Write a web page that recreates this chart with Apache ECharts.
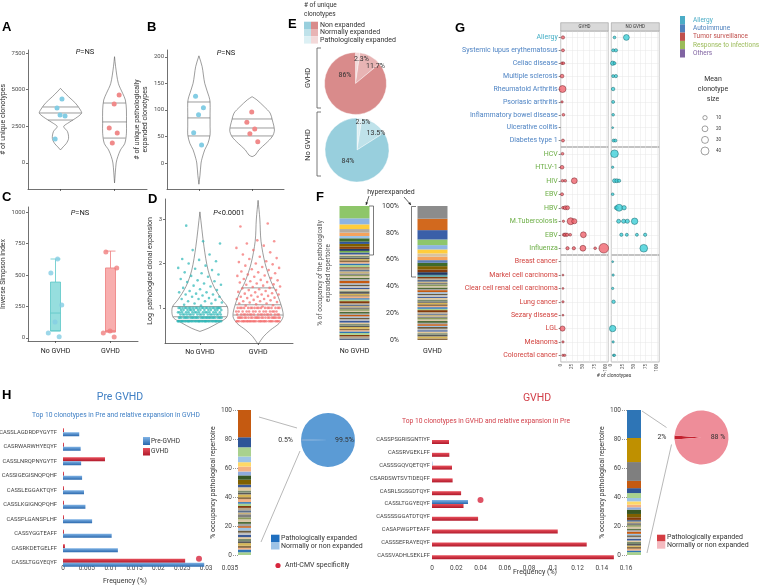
<!DOCTYPE html>
<html>
<head>
<meta charset="utf-8">
<script src="https://cdn.jsdelivr.net/npm/echarts@6.0.0/dist/echarts.min.js"></script>
<style>
html,body{margin:0;padding:0;background:#ffffff;}
#chart{width:764px;height:586px;}
</style>
</head>
<body>
<div id="chart"></div>
<script>
// ================= DATA =================
const groupNames = ['No GVHD', 'GVHD'];

// Panel A : # of unique clonotypes
const aPointsNo = [4360, 3750, 3200, 3270, 1640];
const aPointsGv = [4640, 4020, 2390, 2050, 1360];
const aQuantNo = [2930, 3410, 3820];
const aQuantGv = [1700, 2800, 4090];
// violin outlines: [value, half density width in category units]
const aViolinNo = [[5090,0],[4850,0.06],[4520,0.15],[4070,0.28],[3610,0.37],[3390,0.39],[3050,0.28],[2700,0.13],[2480,0.06],[2140,0.13],[1680,0.15],[1340,0.11],[1100,0.05],[890,0]];
const aViolinGv = [[7250,0],[6560,0.02],[5430,0.07],[4750,0.15],[4300,0.2],[3610,0.22],[2710,0.22],[2030,0.22],[1340,0.19],[890,0.11],[430,0.06],[0,0.03],[-1360,0]];
const aTicks = [0, 2500, 5000, 7500];

// Panel B : # of unique pathologically expanded clonotypes
const bPointsNo = [126, 104, 91, 57, 34];
const bPointsGv = [96, 77, 64, 55, 40];
const bQuantNo = [51, 85, 115];
const bQuantGv = [51, 66, 83];
const bViolinNo = [[202,0],[182,0.06],[150,0.11],[125,0.19],[115,0.21],[94,0.21],[68,0.21],[53,0.21],[37,0.17],[25,0.11],[9,0.06],[0,0.04],[-23,0.02],[-40,0]];
const bViolinGv = [[125,0],[119,0.09],[106,0.23],[94,0.34],[81,0.38],[62,0.42],[50,0.38],[37,0.26],[25,0.13],[15,0.06],[12,0]];
const bTicks = [0, 50, 100, 150, 200];

// Panel C : Inverse Simpson index  [min, Q1, median, Q3, max]
const cBoxes = [[56,56,198,444,627],[48,48,58,556,690]];
const cPointsNo = [627, 516, 262, 127, 40, 10];
const cPointsGv = [683, 556, 56, 40, 8];
const cTicks = [0, 250, 500, 750, 1000];

// Panel D : Log pathological clonal expansion
const dViolinNo = [[3.16,0],[2.38,0.07],[1.85,0.14],[1.48,0.24],[1.18,0.38],[1.03,0.47],[0.88,0.48],[0.77,0.45],[0.66,0.31],[0.54,0.14],[0.47,0]];
const dViolinGv = [[3.42,0],[3.0,0.03],[2.5,0.05],[2.0,0.12],[1.6,0.22],[1.3,0.33],[1.0,0.41],[0.8,0.43],[0.65,0.36],[0.5,0.21],[0.35,0.09],[0.18,0]];
const dQuantNo = [0.72, 0.80, 1.03];
const dQuantGv = [0.84, 1.07, 1.45];
const dNoLevels = [0.70, 0.78, 0.85, 0.90, 0.95, 1.00];
const dNoCounts = [40, 30, 18, 16, 14, 22];
const dNoSpread = [1.05,1.07,1.1,1.1,1.12,1.15,1.15,1.18,1.2,1.2,1.22,1.25,1.25,1.28,1.3,1.3,1.32,1.35,1.35,1.38,1.4,1.42,1.45,1.48,1.5,1.52,1.55,1.58,1.6,1.62,1.65,1.7,1.72,1.75,1.78,1.8,1.85,1.88,1.9,1.95,2.0,2.05,2.08,2.1,2.2,2.3,2.45,2.5,2.85];
const dGvLevels = [0.70, 0.78, 0.85, 0.92, 1.00];
const dGvCounts = [30, 24, 18, 14, 18];
const dGvSpread = [1.03,1.05,1.06,1.08,1.1,1.1,1.12,1.13,1.15,1.15,1.17,1.18,1.2,1.2,1.22,1.23,1.25,1.25,1.27,1.28,1.3,1.3,1.32,1.33,1.35,1.36,1.38,1.4,1.4,1.42,1.44,1.45,1.47,1.48,1.5,1.52,1.53,1.55,1.57,1.58,1.6,1.62,1.63,1.65,1.67,1.7,1.72,1.73,1.75,1.78,1.8,1.82,1.85,1.87,1.9,1.92,1.95,1.98,2.0,2.03,2.05,2.1,2.12,2.15,2.2,2.25,2.3,2.35,2.4,2.45,2.5,2.52,2.83,2.9];
const dTicks = [1, 2, 3];

// Panel E : pies (% of unique clonotypes)
const eNames = ['Pathologically expanded', 'Normally expanded', 'Non expanded'];
const ePieGvhd = [2.3, 11.7, 86];
const ePieNoGvhd = [2.5, 13.5, 84];

// Panel F : stacked occupancy (segments listed top -> bottom, %)
const fNoGvhdSeg = [9.2,4.5,3.5,2.7,2.5,1.7,2.5,1.7,2.0,1.7,1.5,1.2,
  1.5,1.0,1.3,1.1,0.9,1.4,1.0,1.2,1.6,0.8, 1.3,1.0,1.5,1.1,0.9,1.2,1.0,1.4,1.8,0.9,
  1.1,1.3,1.0,1.2,0.8,1.5,1.1,0.9,1.3,1.0, 1.2,1.6,0.9,1.1,1.0,1.4,1.2,0.8,1.3,1.0,
  1.1,0.9,1.2,1.0,1.5,1.1,1.2,1.0,1.3,1.1, 0.9,1.2,1.4,1.1,1.5,1.2];
const fGvhdSeg = [9.5,8.5,7.0,4.2,3.2,3.0,2.5,2.5,2.0,2.5,2.5,2.0,2.0,1.5,
  1.2,1.0,1.4,0.9,1.1,1.3,1.0,1.2,0.8,1.5, 1.1,1.0,1.3,0.9,1.2,1.4,1.0,1.1,1.3,0.9,
  1.2,1.0,1.5,1.1,0.9,1.3,1.0,1.2,1.1,1.4, 1.0,1.2,0.9,1.3,1.1,1.0,1.2,1.1,1.3,1.5,1.2];

// Panel G : bubble plot
const gRows1 = ['Allergy','Systemic lupus erythematosus','Celiac disease','Multiple sclerosis','Rheumatoid Arthritis','Psoriasic arthritis','Inflammatory bowel disease','Ulcerative colitis','Diabetes type 1'];
const gRows2 = ['HCV','HTLV-1','HIV','EBV','HBV','M.Tubercolosis','EBV\u200b','Influenza'];
const gRows3 = ['Breast cancer','Markel cell carcinoma','Clear cell renal cell carcinoma','Lung cancer','Sezary disease','LGL','Melanoma','Colorectal cancer'];
const gCategoryNames = ['Allergy','Autoimmune','Tumor surveillance','Response to infections','Others'];
const gSizeLegend = [10, 20, 30, 40];
// [# of clonotypes, row, mean clonotype size]
const gGvhd = [
  [5,'Allergy',5],[5,'Systemic lupus erythematosus',4],[3,'Celiac disease',3],[6,'Celiac disease',3],
  [3,'Multiple sclerosis',7],[4,'Rheumatoid Arthritis',30],[3,'Psoriasic arthritis',2],[6,'Inflammatory bowel disease',3],
  [5,'Diabetes type 1',4],[4,'HCV',3],[3,'HTLV-1',7],[4,'HIV',3],[10,'HIV',3],[30,'HIV',20],[3,'EBV',4],
  [5,'HBV',3],[10,'HBV',8],[15,'HBV',8],[6,'M.Tubercolosis',2],[22,'M.Tubercolosis',30],[30,'M.Tubercolosis',15],
  [7,'EBV\u200b',4],[10,'EBV\u200b',6],[14,'EBV\u200b',5],[21,'EBV\u200b',3],[50,'EBV\u200b',20],
  [15,'Influenza',5],[29,'Influenza',5],[49,'Influenza',20],[76,'Influenza',3],[95,'Influenza',60],
  [5,'Markel cell carcinoma',1],[5,'Clear cell renal cell carcinoma',1],[5,'Lung cancer',2],[5,'Sezary disease',1],
  [4,'LGL',15],[5,'Melanoma',2],[5,'Colorectal cancer',2],[9,'Colorectal cancer',2]
];
const gNoGvhd = [
  [7,'Allergy',3],[33,'Allergy',20],[4,'Systemic lupus erythematosus',4],[10,'Systemic lupus erythematosus',5],
  [3,'Celiac disease',10],[7,'Celiac disease',4],[4,'Multiple sclerosis',4],[10,'Multiple sclerosis',5],
  [4,'Rheumatoid Arthritis',6],[4,'Psoriasic arthritis',4],[4,'Inflammatory bowel disease',3],[3,'Ulcerative colitis',1],
  [5,'Diabetes type 1',4],[9,'Diabetes type 1',4],[7,'HCV',37],[3,'HTLV-1',2],[7,'HIV',8],[12,'HIV',8],[17,'HIV',5],
  [3,'EBV',3],[11,'HBV',8],[17,'HBV',30],[28,'HBV',10],[16,'M.Tubercolosis',8],[27,'M.Tubercolosis',9],
  [35,'M.Tubercolosis',9],[51,'M.Tubercolosis',25],[22,'EBV\u200b',5],[34,'EBV\u200b',4],[56,'EBV\u200b',4],[74,'EBV\u200b',5],
  [71,'Influenza',37],[3,'Breast cancer',1],[4,'Markel cell carcinoma',2],[3,'Clear cell renal cell carcinoma',2],
  [5,'Lung cancer',6],[3,'LGL',25],[4,'Melanoma',2],[5,'Colorectal cancer',2],[7,'Colorectal cancer',2]
];

// Panel H
const hPreCats = ['CASSLAGDRDPYGYTF','CASRWARWHYEQYF','CASSLNRQPNYGYTF','CASSIGEGISNQPQHF','CASSLEGGAKTQYF','CASSLKGIGNQPQHF','CASSPLGANSPLHF','CASSYGGTEAFF','CASRKDETGELFF','CASSLTGGYEQYF'];
const hPrePre  = [0.0034,0.0037,0.0038,0.0040,0.0044,0.0047,0.0061,0.0102,0.0115,0.0296];
const hPreGvhd = [0.0002,0.0002,0.0088,0.0002,0.0002,0.0002,0.0002,0.0002,0.0004,0.0256];
const hPreCmv = [[0.0285,'CASSLTGGYEQYF']];
const hGvCats = ['CASSPSGRISGNTIYF','CASSRVGEKLFF','CASSSGQVQETQYF','CSARDSWTSVTIDEQFF','CASRLSGSGDTQYF','CASSLTGGYEQYF','CASSSSGGATDTQYF','CASAPWGPTEAFF','CASSSEFRAYEQYF','CASSVADHLSEKLFF'];
const hGvGvhd = [0.014,0.0143,0.0165,0.017,0.024,0.026,0.038,0.1037,0.1276,0.150];
const hGvPre  = [0,0,0.0003,0,0,0.0297,0,0,0,0];
const hGvCmv = [[0.04,'CASSLTGGYEQYF']];
const hPreStackSeg = [18.8,6.9,6.4,3.9,3.0,3.4,2.7,3.0,3.4,
  1.8,2.2,1.5,1.2,1.9,1.4,2.0,1.1,1.6,1.3, 1.7,1.5,1.2,2.1,1.4,1.8,1.3,1.6,1.1,1.9,
  1.5,1.4,1.7,1.2,1.6,1.3,1.8,1.5,1.1,1.9,1.9];
const hGvStackSeg = [19.3,16.6,13.0,5.0,3.4,3.4,2.3,2.3,1.8,1.6,3.0,2.3,1.8,
  1.2,1.0,1.4,1.1,1.3,0.9,1.2,1.5,1.0,1.1, 1.3,1.2,1.0,1.4,1.1,0.9,1.3,1.2,1.1,2.0];
const hPiePre = [0.5, 99.5];
const hPieGvhd = [2, 88];
const hPieNames = ['Pathologically expanded', 'Normally or non expanded'];

// ================= STYLE / LAYOUT =================
const FONT = 'Roboto, "Liberation Sans", Arial, sans-serif';
const BOLD = '"Liberation Sans", Arial, sans-serif';
const AXC = {color:'#333333', width:0.7};
const TICKLBL = {fontSize:6, color:'#4d4d4d', fontFamily:FONT};
const stripePal = ['#b6a68c','#5a6e8c','#c9b27c','#7f7f7f','#8a9a5b','#d9c6a5','#4e6b3a','#a5a5a5','#c55a11','#9dc3e6','#6b5b3e','#bfbfbf','#3b5998','#e2c99b','#7a8b6f','#595959','#d6b656','#8c6d46','#f4b183','#2e75b6','#a9d18e','#843c0c'];
const fTopColors = [
  ['#8ec66a','#8db4e2','#ffcd3c','#b3ab9f','#f4a35d','#9dc3e6','#3e6b2c','#2f5597','#806000','#843c0c','#203864','#70ad47'],
  ['#8c8c8c','#d2691e','#3a5fa8','#8ec66a','#8db4e2','#ffcd3c','#d8c3a0','#f4a35d','#5b7fb8','#3e6b2c','#806000','#843c0c','#203864','#5fa3a3']
];
const hPreTop = ['#c55a11','#2f5597','#a9d18e','#9dc3e6','#ffd966','#f4b183','#8faadc','#385723','#7f6000'];
const hGvTop = ['#2e75b6','#bf9000','#7f7f7f','#c55a11','#2f5597','#a9d18e','#9dc3e6','#ffd966','#f4b183','#8faadc','#385723','#7f6000','#843c0c'];
const gTypeColor = {allergy:'#45afc6', auto:'#4f84c4', tumor:'#d2433f', infect:'#6cae45', others:'#8064a2'};
const gLegendColors = ['#4bacc6','#4f81bd','#c0504d','#9bbb59','#8064a2'];
function gRowColor(name){
  if (name === 'Allergy') return gTypeColor.allergy;
  if (gRows1.indexOf(name) >= 0) return gTypeColor.auto;
  if (gRows2.indexOf(name) >= 0) return gTypeColor.infect;
  return gTypeColor.tumor;
}
const sizeFn = v => 1.15 * Math.sqrt(v) + 0.7;

// ================= HELPERS =================
function interpW(outline, v){
  for (let i = 0; i < outline.length - 1; i++){
    const a = outline[i], b = outline[i+1];
    if (v <= a[0] && v >= b[0]) { const t = (a[0]-v)/(a[0]-b[0]); return a[1] + (b[1]-a[1])*t; }
  }
  return 0;
}
function violin(ax, center, outline, quant){
  return {
    type:'custom', xAxisIndex:ax, yAxisIndex:ax, silent:true, clip:false, z:1,
    data:[[center, outline[0][0]]],
    renderItem:function(params, api){
      const pts = [];
      outline.forEach(p => pts.push(api.coord([center - p[1], p[0]])));
      for (let i = outline.length - 1; i >= 0; i--) { const p = outline[i]; pts.push(api.coord([center + p[1], p[0]])); }
      const kids = [{type:'polygon', shape:{points:pts, smooth:0.3}, style:{fill:'rgba(0,0,0,0)', stroke:'#5a5a5a', lineWidth:0.6}}];
      quant.forEach(q => {
        const w = interpW(outline, q);
        const p1 = api.coord([center - w, q]), p2 = api.coord([center + w, q]);
        kids.push({type:'line', shape:{x1:p1[0], y1:p1[1], x2:p2[0], y2:p2[1]}, style:{stroke:'#5a5a5a', lineWidth:0.6}});
      });
      return {type:'group', children:kids};
    }
  };
}
function jitter(center, values, spread, offset){
  return values.map((v, i) => [center + ((((i + offset) * 0.6180339887) % 1) - 0.5) * 2 * spread, v]);
}
function expandLevels(levels, counts){
  const out = [];
  levels.forEach((l, i) => { for (let k = 0; k < counts[i]; k++) out.push(l); });
  return out;
}
function pointSeries(ax, data, color, size, opacity){
  return {type:'scatter', xAxisIndex:ax, yAxisIndex:ax, data:data, symbolSize:size, silent:true, z:3,
    itemStyle:{color:color, opacity:opacity}};
}
function stackSeries(ax, bars, topColors, stack, barWidth, palOffsets){
  const revs = bars.map(b => b.slice().reverse());
  const n = Math.max.apply(null, revs.map(r => r.length));
  const out = [];
  for (let i = 0; i < n; i++){
    out.push({type:'bar', xAxisIndex:ax, yAxisIndex:ax, stack:stack, barWidth:barWidth, silent:true,
      data: revs.map((r, bi) => {
        if (i >= r.length) return {value:0};
        const topIdx = r.length - 1 - i;
        const col = topIdx < topColors[bi].length ? topColors[bi][topIdx] : stripePal[(topIdx + palOffsets[bi]) % stripePal.length];
        return {value:r[i], itemStyle:{color:col}};
      })});
  }
  return out;
}
function valY(gi, min, max, ticks, name, gap){
  return {gridIndex:gi, type:'value', min:min, max:max,
    axisLine:{show:true, onZero:false, lineStyle:AXC},
    axisTick:{show:true, length:2, customValues:ticks, lineStyle:AXC},
    axisLabel:Object.assign({customValues:ticks, margin:3, formatter:v => String(v)}, TICKLBL),
    splitLine:{show:false},
    name:name, nameLocation:'middle', nameGap:gap, nameTextStyle:{fontSize:7, color:'#333', fontFamily:FONT, lineHeight:8}};
}
function valX(gi, labels, margin){
  return {gridIndex:gi, type:'value', min:0.4, max:2.6,
    axisLine:{show:true, onZero:false, lineStyle:AXC},
    axisTick:{show:true, length:2, customValues:[1,2], lineStyle:AXC},
    axisLabel:{show:labels, customValues:[1,2], formatter:v => groupNames[Math.round(v)-1] || '', fontSize:7, color:'#222', fontFamily:FONT, margin:margin},
    splitLine:{show:false}};
}

// ================= GRIDS =================
const gvLeft = 560.7, gvW = 47.6, noLeft = 611.3, noW = 48;
const gTops = [31, 147, 255], gHeights = [116, 108, 107];
const gFacets = [gRows1, gRows2, gRows3];
const grids = [
  {left:28, top:50, width:119, height:139},     // 0 A
  {left:167, top:50, width:117, height:139},    // 1 B
  {left:28, top:207, width:110, height:134},    // 2 C
  {left:165, top:199, width:128, height:144},   // 3 D
  {left:315.5, top:206, width:156, height:134}  // 4 F
];
[gvLeft, noLeft].forEach((lx, c) => {
  gTops.forEach((t, f) => grids.push({left:lx, top:t, width:(c===0?gvW:noW), height:gHeights[f], show:true, borderColor:'#8a8a8a', borderWidth:0.6, backgroundColor:'rgba(0,0,0,0)'}));
});
grids.push({left:63, top:425, width:167, height:145});   // 11 H left bars
grids.push({left:238, top:410, width:13, height:145});   // 12 H left stack
grids.push({left:432, top:433.6, width:194, height:128}); // 13 H right bars
grids.push({left:627, top:410, width:14, height:145});   // 14 H right stack
grids.forEach(g => { g.outerBoundsMode = 'none'; g.containLabel = false; });

// ================= AXES =================
const xAxes = [], yAxes = [];
xAxes[0] = valX(0, false, 3);
yAxes[0] = valY(0, -1773, 7705, aTicks, '# of unique clonotypes', 19);
xAxes[1] = valX(1, false, 3);
yAxes[1] = valY(1, -49, 213, bTicks, '# of unique pathologically\nexpanded clonotypes', 18);
xAxes[2] = {gridIndex:2, type:'category', data:groupNames, boundaryGap:true,
  axisLine:{show:true, onZero:false, lineStyle:AXC}, axisTick:{show:true, alignWithLabel:true, length:2, lineStyle:AXC},
  axisLabel:{fontSize:7, color:'#222', fontFamily:FONT, margin:7}, splitLine:{show:false}};
yAxes[2] = valY(2, -24, 1040, cTicks, 'Inverse Simpson index', 17);
xAxes[3] = valX(3, true, 6);
yAxes[3] = valY(3, 0.21, 3.45, dTicks, 'Log  pathological clonal expansion', 11);
xAxes[4] = {gridIndex:4, type:'category', data:groupNames, boundaryGap:true,
  axisLine:{show:false}, axisTick:{show:false}, axisLabel:{fontSize:7, color:'#222', fontFamily:FONT, margin:8}, splitLine:{show:false}};
yAxes[4] = {gridIndex:4, type:'value', min:0, max:100, interval:20, position:'left', offset:-87.5,
  axisLine:{show:false}, axisTick:{show:false}, splitLine:{show:false},
  axisLabel:{formatter:'{value}%', fontSize:7, color:'#333', fontFamily:FONT, margin:4},
  name:'% of occupancy of the pathologically\nexpanded repertoire', nameLocation:'middle', nameGap:71,
  nameTextStyle:{fontSize:6.5, color:'#555', fontFamily:FONT, lineHeight:8}};
for (let c = 0; c < 2; c++){
  for (let f = 0; f < 3; f++){
    const gi = 5 + c*3 + f;
    xAxes[gi] = {gridIndex:gi, type:'value', min:0, max:105, interval:12.5,
      axisLine:{show:false}, axisTick:{show:false},
      axisLabel:{show:f===2, rotate:90, fontSize:4.5, color:'#4d4d4d', fontFamily:FONT, margin:2,
        formatter:v => (Math.abs(v % 25) < 1e-9 && v <= 100) ? String(v) : ''},
      splitLine:{show:true, lineStyle:{color:'#e6e6e6', width:0.5}}};
    yAxes[gi] = {gridIndex:gi, type:'category', data:gFacets[f], inverse:true, boundaryGap:true,
      axisLine:{show:false}, splitLine:{show:false},
      axisTick:{show:c===0, alignWithLabel:true, length:2, lineStyle:{color:'#333', width:0.6}},
      axisLabel:{show:c===0, fontSize:7, fontFamily:FONT, margin:3, color:(v) => gRowColor(v)}};
  }
}
xAxes[11] = {gridIndex:11, type:'value', min:0, max:0.035, interval:0.005, axisLine:{show:false}, axisTick:{show:false},
  axisLabel:{fontSize:6.5, color:'#444', fontFamily:FONT, margin:-5, formatter:v => String(v)}, splitLine:{show:false}};
yAxes[11] = {gridIndex:11, type:'category', data:hPreCats, inverse:true, axisLine:{show:false}, axisTick:{show:false},
  axisLabel:{fontSize:5.8, color:'#444', fontFamily:FONT, margin:6}, splitLine:{show:false}};
xAxes[12] = {gridIndex:12, type:'category', data:['Pre'], show:false};
yAxes[12] = {gridIndex:12, type:'value', min:0, max:100, interval:20, axisLine:{show:false},
  axisTick:{show:true, length:5, lineStyle:{type:'dotted', color:'#999'}}, splitLine:{show:false},
  axisLabel:{fontSize:6.5, color:'#444', fontFamily:FONT, margin:6},
  name:'% occupancy pathological repertoire', nameLocation:'middle', nameGap:17,
  nameTextStyle:{fontSize:7, color:'#333', fontFamily:FONT}};
xAxes[13] = {gridIndex:13, type:'value', min:0, max:0.16, interval:0.02, axisLine:{show:false}, axisTick:{show:false},
  axisLabel:{fontSize:6.5, color:'#444', fontFamily:FONT, margin:3, formatter:v => String(v)}, splitLine:{show:false}};
yAxes[13] = {gridIndex:13, type:'category', data:hGvCats, inverse:true, axisLine:{show:false}, axisTick:{show:false},
  axisLabel:{fontSize:5.8, color:'#444', fontFamily:FONT, margin:2}, splitLine:{show:false}};
xAxes[14] = {gridIndex:14, type:'category', data:['GVHD'], show:false};
yAxes[14] = {gridIndex:14, type:'value', min:0, max:100, interval:20, axisLine:{show:false},
  axisTick:{show:true, length:5, lineStyle:{type:'dotted', color:'#999'}}, splitLine:{show:false},
  axisLabel:{fontSize:6.5, color:'#444', fontFamily:FONT, margin:6},
  name:'% occupancy pathological repertoire', nameLocation:'middle', nameGap:16,
  nameTextStyle:{fontSize:7, color:'#333', fontFamily:FONT}};
xAxes[15] = {gridIndex:2, type:'value', min:-0.5, max:1.5, show:false};

// ================= SERIES =================
const series = [];
// A
series.push(violin(0, 1, aViolinNo, aQuantNo), violin(0, 2, aViolinGv, aQuantGv));
series.push(pointSeries(0, jitter(1, aPointsNo, 0.12, 1), '#84cde4', 5, 1));
series.push(pointSeries(0, jitter(2, aPointsGv, 0.12, 3), '#f08a8a', 5, 1));
// B
series.push(violin(1, 1, bViolinNo, bQuantNo), violin(1, 2, bViolinGv, bQuantGv));
series.push(pointSeries(1, jitter(1, bPointsNo, 0.12, 2), '#84cde4', 5, 1));
series.push(pointSeries(1, jitter(2, bPointsGv, 0.12, 4), '#f08a8a', 5, 1));
// C
series.push({type:'boxplot', xAxisIndex:2, yAxisIndex:2, silent:true, boxWidth:[10,10], z:2,
  data:[
    {value:cBoxes[0], itemStyle:{color:'rgba(80,200,200,0.6)', borderColor:'#5cc6c6', borderWidth:0.8}},
    {value:cBoxes[1], itemStyle:{color:'rgba(245,140,140,0.7)', borderColor:'#ee7c7c', borderWidth:0.8}}
  ]});
series.push({type:'scatter', xAxisIndex:15, yAxisIndex:2, data:jitter(0, cPointsNo, 0.16, 1), symbolSize:5, silent:true, z:3, itemStyle:{color:'#84cde4'}});
series.push({type:'scatter', xAxisIndex:15, yAxisIndex:2, data:jitter(1, cPointsGv, 0.16, 2), symbolSize:5, silent:true, z:3, itemStyle:{color:'#f08080'}});
// D
series.push(pointSeries(3, jitter(1, expandLevels(dNoLevels, dNoCounts).concat(dNoSpread), 0.38, 0), '#2bb7b7', 2.6, 0.7));
series.push(pointSeries(3, jitter(2, expandLevels(dGvLevels, dGvCounts).concat(dGvSpread), 0.38, 7), '#f36a6a', 2.6, 0.7));
series.push(violin(3, 1, dViolinNo, dQuantNo), violin(3, 2, dViolinGv, dQuantGv));
// F
stackSeries(4, [fNoGvhdSeg, fGvhdSeg], fTopColors, 'f', 30, [0, 7]).forEach(s => series.push(s));
// G
for (let c = 0; c < 2; c++){
  for (let f = 0; f < 3; f++){
    const gi = 5 + c*3 + f;
    const src = c === 0 ? gGvhd : gNoGvhd;
    series.push({type:'scatter', xAxisIndex:gi, yAxisIndex:gi, silent:true, clip:false, z:3,
      data: src.filter(p => gFacets[f].indexOf(p[1]) >= 0),
      symbolSize: d => sizeFn(d[2]),
      itemStyle: c === 0 ? {color:'#f0646e', borderColor:'#6b1a1f', borderWidth:0.6}
                         : {color:'#3fd0d8', borderColor:'#0b5c63', borderWidth:0.6},
      markLine:{silent:true, symbol:'none', z:1, label:{show:false}, animation:false,
        lineStyle:{color:'#e6e6e6', width:0.5, type:'solid'},
        data: gFacets[f].map(r => ({yAxis:r}))}
    });
  }
}
// H left bars
const blueGrad = new echarts.graphic.LinearGradient(0,0,0,1,[{offset:0,color:'#7fb3e6'},{offset:1,color:'#2a68ad'}]);
const redGrad = new echarts.graphic.LinearGradient(0,0,0,1,[{offset:0,color:'#e8505c'},{offset:1,color:'#b0182a'}]);
series.push({type:'bar', name:'GVHD', xAxisIndex:11, yAxisIndex:11, data:hPreGvhd, barWidth:4, barGap:'0%', silent:true, itemStyle:{color:redGrad}});
series.push({type:'bar', name:'Pre-GVHD', xAxisIndex:11, yAxisIndex:11, data:hPrePre, barWidth:4, barGap:'0%', silent:true, itemStyle:{color:blueGrad}});
series.push({type:'scatter', xAxisIndex:11, yAxisIndex:11, data:hPreCmv, symbolSize:6, symbolOffset:[0,-4], silent:true, z:4, itemStyle:{color:'#d7263d'}});
stackSeries(12, [hPreStackSeg], [hPreTop], 'hl', 13, [3]).forEach(s => series.push(s));
// H right bars
series.push({type:'bar', name:'Pre-GVHD ', xAxisIndex:13, yAxisIndex:13, data:hGvPre, barWidth:4, barGap:'0%', silent:true, itemStyle:{color:blueGrad}});
series.push({type:'bar', name:'GVHD ', xAxisIndex:13, yAxisIndex:13, data:hGvGvhd, barWidth:4, barGap:'0%', silent:true, itemStyle:{color:redGrad}});
series.push({type:'scatter', xAxisIndex:13, yAxisIndex:13, data:hGvCmv, symbolSize:6, symbolOffset:[0,-4], silent:true, z:4, itemStyle:{color:'#d7263d'}});
stackSeries(14, [hGvStackSeg], [hGvTop], 'hr', 14, [10]).forEach(s => series.push(s));
// E pies
const eRed = ['#f3d9d9','#e8b4b4','#d98b8b'];
const eBlue = ['#dcf0f4','#bfe2ea','#98cfdd'];
function ePie(center, r, vals, cols){
  return {type:'pie', center:center, radius:r, startAngle:90, clockwise:true, silent:true, animation:false,
    label:{show:false}, labelLine:{show:false}, itemStyle:{borderColor:'#ffffff', borderWidth:0.4},
    data: vals.map((v, i) => ({name:eNames[i], value:v, itemStyle:{color:cols[i]}}))};
}
series.push(ePie([355.5, 83.5], 31, ePieGvhd, eRed));
series.push(ePie([357, 150], 32, ePieNoGvhd, eBlue));
// H pies
function hPie(center, vals, cols, bigFmt){
  const smallAngle = vals[0] / (vals[0] + vals[1]) * 360;
  return {type:'pie', center:center, radius:27, startAngle:180 + smallAngle/2, clockwise:true, silent:true,
    avoidLabelOverlap:false, animation:false, itemStyle:{borderWidth:0},
    label:{fontSize:7, color:'#333', fontFamily:FONT},
    data:[
      {name:hPieNames[0], value:vals[0], itemStyle:{color:cols[0]}, label:{show:true, position:'outside', formatter:'{c}%'}, labelLine:{show:false, length:3, length2:0}},
      {name:hPieNames[1], value:vals[1], itemStyle:{color:cols[1]}, label:{show:true, position:'inside', formatter:bigFmt}}
    ]};
}
series.push(hPie([328, 440], hPiePre, ['#1f5fae','#5b9bd5'], '{c}%'));
series.push(hPie([701.5, 437.5], hPieGvhd, ['#c4202e','#ee8d99'], '{c} %'));

// ================= GRAPHIC ANNOTATIONS =================
const G = [];
function txt(x, y, text, opt){
  opt = opt || {};
  G.push({type:'text', x:x, y:y, rotation:opt.rot || 0, z:100, silent:true,
    style:Object.assign({text:text, fontSize:7, fontFamily:FONT, fill:'#333', align:'center', verticalAlign:'middle'}, opt.style || {})});
}
function rect(x, y, w, h, fill, stroke){
  G.push({type:'rect', z:99, silent:true, shape:{x:x, y:y, width:w, height:h}, style:{fill:fill, stroke:stroke || null, lineWidth:0.5}});
}
function poly(points, stroke, lw){
  G.push({type:'polyline', z:99, silent:true, shape:{points:points}, style:{stroke:stroke, lineWidth:lw || 0.8, fill:null}});
}
function arrow(x1, y1, x2, y2){
  poly([[x1,y1],[x2,y2]], '#222', 0.7);
  const a = Math.atan2(y2 - y1, x2 - x1), s = 3;
  G.push({type:'polygon', z:99, silent:true, shape:{points:[[x2,y2],[x2 - s*Math.cos(a-0.45), y2 - s*Math.sin(a-0.45)],[x2 - s*Math.cos(a+0.45), y2 - s*Math.sin(a+0.45)]]}, style:{fill:'#222'}});
}
// panel letters
const letterStyle = {fontSize:13, fontWeight:'bold', fontFamily:BOLD, fill:'#000', align:'left', verticalAlign:'top'};
[['A',2,21],['B',147,21],['C',2,191],['D',148,193],['E',288,18],['F',316,191],['G',455,22],['H',2,389]].forEach(l => txt(l[1], l[2], l[0], {style:letterStyle}));
// p-values
const pRich = {i:{fontStyle:'italic', fontSize:7.5, fill:'#222', fontFamily:FONT}, n:{fontSize:7.5, fill:'#222', fontFamily:FONT}};
txt(85, 52, '{i|P}{n|=NS}', {style:{rich:pRich}});
txt(226, 53, '{i|P}{n|=NS}', {style:{rich:pRich}});
txt(80, 213, '{i|P}{n|=NS}', {style:{rich:pRich}});
txt(229, 213, '{i|P}{n|<0.0001}', {style:{rich:pRich}});
// E legend and labels
txt(304, 5, '# of unique', {style:{align:'left', fontSize:6.5}});
txt(304, 14, 'clonotypes', {style:{align:'left', fontSize:6.5}});
[0,1,2].forEach(i => {
  rect(304, 21.7 + i*7.3, 7, 7.3, eBlue[2-i]);
  rect(311, 21.7 + i*7.3, 7, 7.3, eRed[2-i]);
});
['Non expanded','Normally expanded','Pathologically expanded'].forEach((t, i) => txt(320, 25.3 + i*7.4, t, {style:{align:'left', fontSize:7}}));
poly([[321,48],[317,48],[317,108],[321,108]], '#555', 0.8);
poly([[321,112],[317,112],[317,176],[321,176]], '#555', 0.8);
txt(308, 78, 'GVHD', {rot:Math.PI/2, style:{fontSize:7.5}});
txt(308, 145, 'No GVHD', {rot:Math.PI/2, style:{fontSize:7.5}});
const eLblGv = [[361.5,59],[375.5,66],[345,75]], eLblNo = [[363,122],[376,133],[348,161]];
ePieGvhd.forEach((v, i) => txt(eLblGv[i][0], eLblGv[i][1], v + '%', {style:{fontSize:7}}));
ePieNoGvhd.forEach((v, i) => txt(eLblNo[i][0], eLblNo[i][1], v + '%', {style:{fontSize:7}}));
// F annotations
txt(391, 192, 'hyperexpanded', {style:{fontSize:7}});
arrow(369, 196, 366, 205);
arrow(404, 197, 411, 205);
poly([[369,206],[373.5,206],[373.5,255],[369,255]], '#444', 0.7);
poly([[416,206.5],[411.5,206.5],[411.5,277],[416,277]], '#444', 0.7);
// G strips, legend, size legend
rect(gvLeft, 22.7, gvW, 8.3, '#d9d9d9', '#8a8a8a');
rect(noLeft, 22.7, noW, 8.3, '#d9d9d9', '#8a8a8a');
txt(gvLeft + gvW/2, 27, 'GVHD', {style:{fontSize:4.5, fill:'#333'}});
txt(noLeft + noW/2, 27, 'NO GVHD', {style:{fontSize:4.5, fill:'#333'}});
gCategoryNames.forEach((n, i) => {
  rect(680, 16 + i*8.3, 5, 8.3, gLegendColors[i]);
  txt(693, 20.2 + i*8.3, n, {style:{align:'left', fontSize:6.5, fill:gLegendColors[i]}});
});
txt(713, 79, 'Mean', {style:{fontSize:7}});
txt(713, 89, 'clonotype', {style:{fontSize:7}});
txt(713, 99, 'size', {style:{fontSize:7}});
gSizeLegend.forEach((v, i) => {
  const cy = 117.7 + i*11.1;
  G.push({type:'circle', z:99, silent:true, shape:{cx:705, cy:cy, r:sizeFn(v)/2}, style:{fill:'#fff', stroke:'#444', lineWidth:0.5}});
  txt(716, cy, String(v), {style:{align:'left', fontSize:4.5}});
});
txt(614, 376, '# of clonotypes', {style:{fontSize:5}});
// H titles, legends, connectors
txt(120, 397, 'Pre GVHD', {style:{fontSize:10.5, fill:'#3f7fc4'}});
txt(116, 415, 'Top 10 clonotypes in Pre and relative expansion in GVHD', {style:{fontSize:6.7, fill:'#3f7fc4'}});
txt(537, 398, 'GVHD', {style:{fontSize:10.5, fill:'#d2404a'}});
txt(486, 421, 'Top 10 clonotypes in GVHD and relative expansion in Pre', {style:{fontSize:6.7, fill:'#d2404a'}});
txt(125, 581, 'Frequency (%)', {style:{fontSize:7}});
txt(535, 572, 'Frequency (%)', {style:{fontSize:7}});
rect(143, 437, 7, 8, blueGrad);
rect(143, 448, 7, 7.5, redGrad);
txt(151, 441, 'Pre-GVHD', {style:{align:'left', fontSize:6.5}});
txt(151, 451.5, 'GVHD', {style:{align:'left', fontSize:6.5}});
rect(271, 534.7, 8.5, 7.3, '#1f6fbf');
rect(271, 542, 8.5, 7.5, '#9dc3e6');
txt(281, 538, hPieNames[0], {style:{align:'left', fontSize:7}});
txt(281, 546.3, hPieNames[1], {style:{align:'left', fontSize:7}});
G.push({type:'circle', z:99, silent:true, shape:{cx:278, cy:565.5, r:2.6}, style:{fill:'#d7263d'}});
txt(285, 565.5, 'Anti-CMV specificitiy', {style:{align:'left', fontSize:7}});
rect(657, 534.7, 8.3, 6.8, '#d43d42');
rect(657, 541.5, 8.3, 7.2, '#f4b9bf');
txt(667, 537.5, hPieNames[0], {style:{align:'left', fontSize:7}});
txt(667, 545, hPieNames[1], {style:{align:'left', fontSize:7}});
// connector lines from stacked bars to pies
poly([[238+13+8, 410+7],[328-31, 440-12]], '#9a9a9a', 0.7);
poly([[238+13+10, 555-13],[328-28, 440+11]], '#9a9a9a', 0.7);
poly([[627+14+1, 410+1],[701.5-35, 437.5-10]], '#9a9a9a', 0.7);
poly([[627+14+6, 555-2],[701.5-30, 437.5+7]], '#9a9a9a', 0.7);

// ================= RENDER =================
const chart = echarts.init(document.getElementById('chart'), null, {renderer:'canvas', width:764, height:586});
chart.setOption({
  animation:false,
  backgroundColor:'#ffffff',
  textStyle:{fontFamily:FONT},
  grid:grids, xAxis:xAxes, yAxis:yAxes, series:series, graphic:G
});
</script>
</body>
</html>
